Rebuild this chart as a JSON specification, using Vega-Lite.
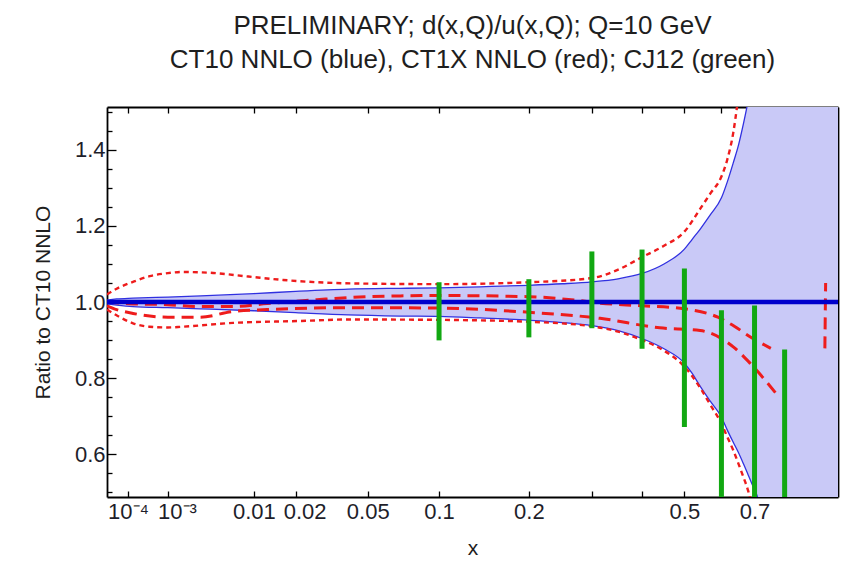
{
  "$schema": "https://vega.github.io/schema/vega-lite/v6.json",
  "background": "white",
  "autosize": {"type": "none"},
  "padding": {"left": 107, "top": 107, "right": 8, "bottom": 68},
  "width": 731,
  "height": 390,
  "datasets": {
    "band": [
      {"x": 0.000006, "lo": 0.995, "hi": 1.005},
      {"x": 0.00003, "lo": 0.992, "hi": 1.008},
      {"x": 0.00015, "lo": 0.988, "hi": 1.01},
      {"x": 0.001, "lo": 0.985, "hi": 1.013},
      {"x": 0.003, "lo": 0.982, "hi": 1.016},
      {"x": 0.01, "lo": 0.977, "hi": 1.022},
      {"x": 0.02, "lo": 0.972, "hi": 1.028},
      {"x": 0.04, "lo": 0.966, "hi": 1.034},
      {"x": 0.07, "lo": 0.963, "hi": 1.036},
      {"x": 0.1, "lo": 0.962, "hi": 1.037},
      {"x": 0.14, "lo": 0.958, "hi": 1.04},
      {"x": 0.2, "lo": 0.952, "hi": 1.044},
      {"x": 0.25, "lo": 0.946, "hi": 1.048},
      {"x": 0.3, "lo": 0.938, "hi": 1.053},
      {"x": 0.35, "lo": 0.925, "hi": 1.061},
      {"x": 0.4, "lo": 0.904, "hi": 1.075},
      {"x": 0.45, "lo": 0.877, "hi": 1.1},
      {"x": 0.5, "lo": 0.839, "hi": 1.139},
      {"x": 0.52, "lo": 0.812, "hi": 1.165},
      {"x": 0.5413, "lo": 0.778, "hi": 1.192},
      {"x": 0.5685, "lo": 0.739, "hi": 1.229},
      {"x": 0.6, "lo": 0.697, "hi": 1.274},
      {"x": 0.617, "lo": 0.663, "hi": 1.316},
      {"x": 0.6345, "lo": 0.631, "hi": 1.366},
      {"x": 0.65, "lo": 0.604, "hi": 1.412},
      {"x": 0.665, "lo": 0.575, "hi": 1.468},
      {"x": 0.68, "lo": 0.545, "hi": 1.53},
      {"x": 0.696, "lo": 0.513, "hi": 1.61},
      {"x": 0.712, "lo": 0.48, "hi": 1.72},
      {"x": 0.73, "lo": 0.4, "hi": 1.9},
      {"x": 0.76, "lo": 0.3, "hi": 2.0},
      {"x": 1.0, "lo": 0.3, "hi": 2.0}
    ],
    "ct1x_band": [
      {"s": "up", "x": 0.000006, "y": 1.02},
      {"s": "up", "x": 0.00003, "y": 1.035},
      {"s": "up", "x": 0.00015, "y": 1.053},
      {"s": "up", "x": 0.00043, "y": 1.068},
      {"s": "up", "x": 0.001, "y": 1.076},
      {"s": "up", "x": 0.0017, "y": 1.079},
      {"s": "up", "x": 0.0038, "y": 1.077},
      {"s": "up", "x": 0.009, "y": 1.067},
      {"s": "up", "x": 0.0165, "y": 1.058},
      {"s": "up", "x": 0.041, "y": 1.049},
      {"s": "up", "x": 0.1, "y": 1.047},
      {"s": "up", "x": 0.2, "y": 1.052},
      {"s": "up", "x": 0.3, "y": 1.063},
      {"s": "up", "x": 0.35, "y": 1.085},
      {"s": "up", "x": 0.4, "y": 1.118},
      {"s": "up", "x": 0.45, "y": 1.148},
      {"s": "up", "x": 0.5, "y": 1.185},
      {"s": "up", "x": 0.541, "y": 1.245},
      {"s": "up", "x": 0.5685, "y": 1.285},
      {"s": "up", "x": 0.6, "y": 1.33},
      {"s": "up", "x": 0.617, "y": 1.375},
      {"s": "up", "x": 0.6345, "y": 1.445},
      {"s": "up", "x": 0.646, "y": 1.515},
      {"s": "up", "x": 0.66, "y": 1.62},
      {"s": "dn", "x": 0.000006, "y": 0.98},
      {"s": "dn", "x": 0.00003, "y": 0.965},
      {"s": "dn", "x": 0.00015, "y": 0.944},
      {"s": "dn", "x": 0.00043, "y": 0.935},
      {"s": "dn", "x": 0.001, "y": 0.933},
      {"s": "dn", "x": 0.0017, "y": 0.935},
      {"s": "dn", "x": 0.0066, "y": 0.945},
      {"s": "dn", "x": 0.021, "y": 0.95},
      {"s": "dn", "x": 0.041, "y": 0.954},
      {"s": "dn", "x": 0.1, "y": 0.953},
      {"s": "dn", "x": 0.2, "y": 0.948},
      {"s": "dn", "x": 0.3, "y": 0.936},
      {"s": "dn", "x": 0.35, "y": 0.922},
      {"s": "dn", "x": 0.4, "y": 0.9},
      {"s": "dn", "x": 0.45, "y": 0.872},
      {"s": "dn", "x": 0.5, "y": 0.83},
      {"s": "dn", "x": 0.5413, "y": 0.774},
      {"s": "dn", "x": 0.5685, "y": 0.73},
      {"s": "dn", "x": 0.6, "y": 0.68},
      {"s": "dn", "x": 0.617, "y": 0.645},
      {"s": "dn", "x": 0.6345, "y": 0.61},
      {"s": "dn", "x": 0.65, "y": 0.575},
      {"s": "dn", "x": 0.665, "y": 0.54},
      {"s": "dn", "x": 0.68, "y": 0.503},
      {"s": "dn", "x": 0.69, "y": 0.47}
    ],
    "ct1x_central": [
      {"s": "a", "x": 0.000006, "y": 1.0},
      {"s": "a", "x": 0.00015, "y": 0.995},
      {"s": "a", "x": 0.001, "y": 0.993},
      {"s": "a", "x": 0.0029, "y": 0.988},
      {"s": "a", "x": 0.0066, "y": 0.988},
      {"s": "a", "x": 0.0127, "y": 0.996},
      {"s": "a", "x": 0.027, "y": 1.006},
      {"s": "a", "x": 0.041, "y": 1.012},
      {"s": "a", "x": 0.07, "y": 1.016},
      {"s": "a", "x": 0.1, "y": 1.017},
      {"s": "a", "x": 0.2, "y": 1.014},
      {"s": "a", "x": 0.27, "y": 1.005},
      {"s": "a", "x": 0.315, "y": 0.997},
      {"s": "a", "x": 0.4, "y": 0.99},
      {"s": "a", "x": 0.5, "y": 0.982},
      {"s": "a", "x": 0.59, "y": 0.96},
      {"s": "a", "x": 0.64, "y": 0.935},
      {"s": "a", "x": 0.687, "y": 0.908},
      {"s": "a", "x": 0.753, "y": 0.878},
      {"s": "b", "x": 0.000006, "y": 0.99},
      {"s": "b", "x": 0.00003, "y": 0.98},
      {"s": "b", "x": 0.00015, "y": 0.97},
      {"s": "b", "x": 0.001, "y": 0.96},
      {"s": "b", "x": 0.0029, "y": 0.96},
      {"s": "b", "x": 0.0066, "y": 0.975},
      {"s": "b", "x": 0.0127, "y": 0.98},
      {"s": "b", "x": 0.041, "y": 0.985},
      {"s": "b", "x": 0.1, "y": 0.984},
      {"s": "b", "x": 0.2, "y": 0.973},
      {"s": "b", "x": 0.315, "y": 0.957},
      {"s": "b", "x": 0.44, "y": 0.932},
      {"s": "b", "x": 0.541, "y": 0.925},
      {"s": "b", "x": 0.6345, "y": 0.882},
      {"s": "b", "x": 0.687, "y": 0.838},
      {"s": "b", "x": 0.77, "y": 0.76},
      {"s": "c", "x": 0.948, "y": 0.878},
      {"s": "c", "x": 0.951, "y": 1.05}
    ],
    "ct10_central": [
      {"x": 0.000006, "y": 1.0},
      {"x": 1.0, "y": 1.0}
    ],
    "cj12": [
      {"x": 0.1, "lo": 0.899, "hi": 1.052},
      {"x": 0.2, "lo": 0.907, "hi": 1.06},
      {"x": 0.3, "lo": 0.931, "hi": 1.133},
      {"x": 0.4, "lo": 0.877, "hi": 1.138},
      {"x": 0.5, "lo": 0.671, "hi": 1.088},
      {"x": 0.6, "lo": 0.3, "hi": 0.978},
      {"x": 0.7, "lo": 0.3, "hi": 0.991},
      {"x": 0.8, "lo": 0.3, "hi": 0.875}
    ]
  },
  "title": {
    "text": ["PRELIMINARY; d(x,Q)/u(x,Q); Q=10 GeV", "CT10 NNLO (blue), CT1X NNLO (red); CJ12 (green)"],
    "font": "Liberation Sans",
    "fontSize": 26,
    "fontWeight": "normal",
    "color": "#1e1e1e",
    "lineHeight": 34,
    "frame": "group",
    "anchor": "middle",
    "baseline": "bottom",
    "offset": 7
  },
  "resolve": {"axis": {"x": "independent", "y": "independent"}},
  "layer": [
    {
      "data": {"name": "band"},
      "mark": {"type": "area", "color": "#c9c9f7", "opacity": 1, "clip": true, "interpolate": "monotone"},
      "encoding": {
        "x": {
          "field": "x", "type": "quantitative",
          "scale": {"type": "pow", "exponent": 0.333333333, "domain": [0.000006, 1], "nice": false, "zero": false},
          "axis": {
            "orient": "bottom",
            "values": [0.0001, 0.001, 0.01, 0.02, 0.05, 0.1, 0.2, 0.3, 0.4, 0.5, 0.6, 0.7, 0.8],
            "labelExpr": "datum.value < 0.0005 ? '10⁻⁴' : datum.value < 0.005 ? '10⁻³' : (abs(datum.value-0.3) < 1e-9 || abs(datum.value-0.4) < 1e-9 || abs(datum.value-0.6) < 1e-9 || abs(datum.value-0.8) < 1e-9) ? '' : format(datum.value, '~g')",
            "labelOffset": {"condition": {"test": "abs(datum.value-0.001) < 1e-9 || abs(datum.value-0.02) < 1e-9", "value": 9}, "value": 0},
            "tickSize": -6,
            "labelPadding": 10,
            "labelOverlap": false,
            "labelFlush": false,
            "title": "x",
            "titlePadding": 15
          }
        },
        "y": {
          "field": "lo", "type": "quantitative",
          "scale": {"domain": [0.487, 1.513], "nice": false, "zero": false},
          "axis": {
            "orient": "left",
            "values": [0.6, 0.8, 1.0, 1.2, 1.4],
            "format": ".1f",
            "tickSize": -9,
            "labelPadding": 11,
            "title": "Ratio to CT10 NNLO",
            "titlePadding": 21
          }
        },
        "y2": {"field": "hi"}
      }
    },
    {
      "data": {"name": "band"},
      "transform": [{"fold": ["lo", "hi"], "as": ["edge", "val"]}],
      "mark": {"type": "line", "color": "#3030e0", "strokeWidth": 1.3, "clip": true, "interpolate": "monotone"},
      "encoding": {
        "x": {
          "field": "x", "type": "quantitative",
          "scale": {"type": "pow", "exponent": 0.333333333, "domain": [0.000006, 1], "nice": false, "zero": false},
          "axis": {
            "orient": "top",
            "values": [0.0001, 0.001, 0.01, 0.02, 0.05, 0.1, 0.2, 0.3, 0.4, 0.5, 0.6, 0.7, 0.8],
            "tickSize": -6,
            "labels": false,
            "title": null
          }
        },
        "y": {
          "field": "val", "type": "quantitative",
          "scale": {"domain": [0.487, 1.513], "nice": false, "zero": false},
          "axis": {
            "orient": "right",
            "values": [0.6, 0.8, 1.0, 1.2, 1.4],
            "tickSize": -9,
            "labels": false,
            "title": null
          }
        },
        "detail": {"field": "edge"}
      }
    },
    {
      "data": {"name": "ct1x_band"},
      "mark": {"type": "line", "color": "#ee1c1c", "strokeWidth": 2.4, "strokeDash": [5, 4], "clip": true, "interpolate": "monotone"},
      "encoding": {
        "x": {
          "field": "x", "type": "quantitative",
          "scale": {"type": "pow", "exponent": 0.333333333, "domain": [0.000006, 1], "nice": false, "zero": false},
          "axis": null
        },
        "y": {
          "field": "y", "type": "quantitative",
          "scale": {"domain": [0.487, 1.513], "nice": false, "zero": false},
          "axis": {
            "orient": "left",
            "values": [0.5, 0.55, 0.65, 0.7, 0.75, 0.85, 0.9, 0.95, 1.05, 1.1, 1.15, 1.25, 1.3, 1.35, 1.45, 1.5],
            "tickSize": -5,
            "labels": false,
            "domain": false,
            "title": null
          }
        },
        "detail": {"field": "s"}
      }
    },
    {
      "data": {"name": "ct1x_central"},
      "mark": {"type": "line", "color": "#ee1c1c", "strokeWidth": 3, "strokeDash": [12, 7], "clip": true, "interpolate": "monotone"},
      "encoding": {
        "x": {
          "field": "x", "type": "quantitative",
          "scale": {"type": "pow", "exponent": 0.333333333, "domain": [0.000006, 1], "nice": false, "zero": false},
          "axis": null
        },
        "y": {
          "field": "y", "type": "quantitative",
          "scale": {"domain": [0.487, 1.513], "nice": false, "zero": false},
          "axis": {
            "orient": "right",
            "values": [0.5, 0.55, 0.65, 0.7, 0.75, 0.85, 0.9, 0.95, 1.05, 1.1, 1.15, 1.25, 1.3, 1.35, 1.45, 1.5],
            "tickSize": -5,
            "labels": false,
            "domain": false,
            "title": null
          }
        },
        "detail": {"field": "s"}
      }
    },
    {
      "data": {"name": "ct10_central"},
      "mark": {"type": "line", "color": "#0000cc", "strokeWidth": 4.5, "clip": true},
      "encoding": {
        "x": {
          "field": "x", "type": "quantitative",
          "scale": {"type": "pow", "exponent": 0.333333333, "domain": [0.000006, 1], "nice": false, "zero": false},
          "axis": null
        },
        "y": {
          "field": "y", "type": "quantitative",
          "scale": {"domain": [0.487, 1.513], "nice": false, "zero": false},
          "axis": null
        }
      }
    },
    {
      "data": {"name": "cj12"},
      "mark": {"type": "rule", "color": "#12a812", "strokeWidth": 5, "clip": true},
      "encoding": {
        "x": {
          "field": "x", "type": "quantitative",
          "scale": {"type": "pow", "exponent": 0.333333333, "domain": [0.000006, 1], "nice": false, "zero": false},
          "axis": null
        },
        "y": {
          "field": "lo", "type": "quantitative",
          "scale": {"domain": [0.487, 1.513], "nice": false, "zero": false},
          "axis": null
        },
        "y2": {"field": "hi"}
      }
    }
  ],
  "config": {
    "font": "Liberation Sans",
    "view": {"stroke": null},
    "axis": {
      "grid": false,
      "domainColor": "black",
      "domainWidth": 1.8,
      "tickColor": "black",
      "tickWidth": 1.3,
      "labelFont": "Liberation Sans",
      "labelFontSize": 22,
      "labelColor": "#1e1e2a",
      "titleFont": "Liberation Sans",
      "titleFontSize": 21,
      "titleFontWeight": "normal",
      "titleColor": "#1e1e1e"
    }
  }
}
